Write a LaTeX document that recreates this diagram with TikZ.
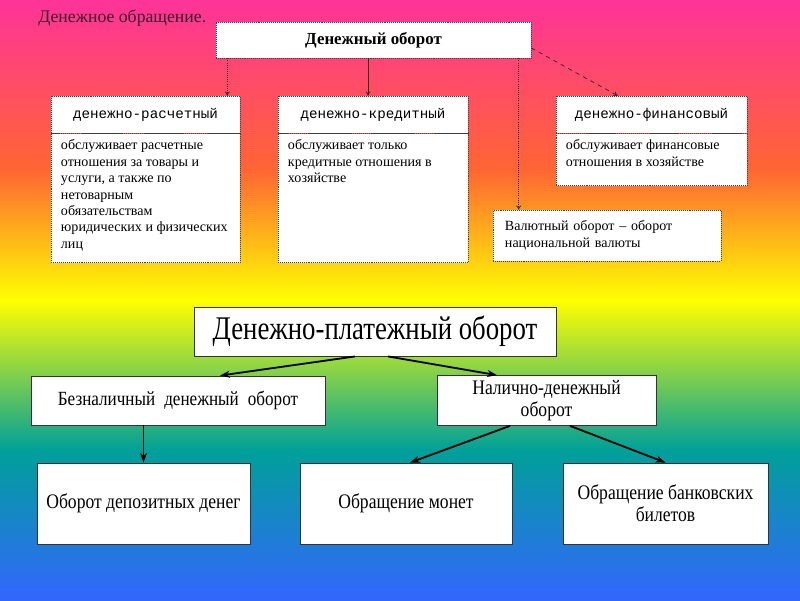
\documentclass[tikz,border=0pt]{standalone}
\usepackage{fontspec}
\setmainfont{Liberation Serif}
\setmonofont{Liberation Mono}
\newfontfamily\narrowserif[FakeStretch=0.85]{Liberation Serif}
\newfontfamily\tallserif[FakeStretch=0.81]{Liberation Serif}
\usetikzlibrary{positioning,arrows.meta,calc,shadows}

\definecolor{bgpink}{HTML}{FF3399}
\definecolor{bgorange}{HTML}{FF6633}
\definecolor{bgyellow}{HTML}{FFFF00}
\definecolor{bgteal}{HTML}{00A099}
\definecolor{bgblue}{HTML}{3366FF}
\definecolor{titlecol}{HTML}{3A1A2A}

\newcommand{\bodytxt}[3]{\parbox[c][#2][t]{#1}{\raggedright #3}}

\tikzset{
  dotbox/.style={draw=black!75, densely dotted, fill=white, inner sep=0pt},
  headbox/.style={dotbox, font=\ttfamily\fontsize{10.1}{12}\selectfont, minimum height=0.925cm},
  bodybox/.style={dotbox, inner xsep=0.25cm, inner ysep=0.15cm, font=\fontsize{10}{11.7}\selectfont},
  flowbox/.style={draw=black!80, fill=white, line width=0.6pt, align=center,
    drop shadow={shadow xshift=1pt, shadow yshift=-1pt, opacity=0.45},
    font=\narrowserif\fontsize{14.7}{15.6}\selectfont},
  thinarrow/.style={-{To[length=3pt,width=3.5pt]}, line width=0.5pt, black!85},
  thickarrow/.style={-{Stealth[length=7pt,width=5pt]}, line width=1.3pt},
}

\begin{document}
\begin{tikzpicture}[x=0.025cm,y=-0.025cm]
\useasboundingbox (0,0) rectangle (800,600);
% background
\shade[top color=bgpink, bottom color=bgorange] (0,0) rectangle (800,170);
\shade[top color=bgorange, bottom color=bgyellow] (0,170) rectangle (800,300);
\shade[top color=bgyellow, bottom color=bgteal] (0,300) rectangle (800,450);
\shade[top color=bgteal, bottom color=bgblue] (0,450) rectangle (800,600);

\node[anchor=west, inner sep=0pt, text=titlecol, font=\fontsize{12.6}{14}\selectfont] (title) at (38,18) {Денежное обращение.};

% upper scheme
\node[dotbox, minimum width=7.875cm, minimum height=0.9cm, font=\bfseries\fontsize{12}{14}\selectfont] (dob) at (373.5,40) {Денежный оборот};

\node[headbox, minimum width=4.725cm] (r1h) at (145.5,114.5) {денежно-расчетный};
\node[bodybox, below=0pt of r1h] (r1b) {\bodytxt{4.225cm}{2.925cm}{обслуживает расчетные\\ отношения за товары и\\ услуги, а также по\\ нетоварным\\ обязательствам\\ юридических и физических\\ лиц}};

\node[headbox, minimum width=4.75cm] (r2h) at (373,114.5) {денежно-кредитный};
\node[bodybox, below=0pt of r2h] (r2b) {\bodytxt{4.25cm}{2.925cm}{обслуживает только\\ кредитные отношения в\\ хозяйстве}};

\node[headbox, minimum width=4.775cm] (r3h) at (651.5,114.5) {денежно-финансовый};
\node[bodybox, below=0pt of r3h] (r3b) {\bodytxt{4.275cm}{1.0cm}{обслуживает финансовые\\ отношения в хозяйстве}};

\node[dotbox, minimum width=5.7cm, minimum height=1.275cm, inner xsep=0.3cm, text width=5.1cm, align=left, font=\fontsize{10}{11.7}\selectfont] (val) at (607,235.5) {Валютный оборот – оборот\\ национальной валюты};

\coordinate (t1) at ($(r1h.north east)+(-13,0)$);
\coordinate (t2) at ($(r2h.north)+(-5,0)$);
\coordinate (t3) at ($(val.north west)+(26,0)$);
\draw[thinarrow, densely dotted] (dob.south -| t1) -- (t1);
\draw[thinarrow] (dob.south -| t2) -- (t2);
\draw[thinarrow, densely dotted] (dob.south -| t3) -- (t3);
\draw[thinarrow, dashed] ($(dob.east)+(0,8)$) -- ($(r3h.north west)+(62,0)$);

% lower scheme
\node[flowbox, minimum width=9.05cm, minimum height=1.225cm, font=\tallserif\fontsize{23.5}{26}\selectfont] (dpo) at (375,331.5) {Денежно-платежный оборот};
\node[flowbox, minimum width=7.35cm, minimum height=1.225cm, font=\narrowserif\fontsize{14.3}{15.6}\selectfont] (bez) at (178,400.5) {Безналичный\hspace{0.12cm} денежный\hspace{0.12cm} оборот};
\node[flowbox, minimum width=5.475cm, minimum height=1.225cm] (nal) at (546.5,400.5) {Налично-денежный\\ оборот};
\node[flowbox, minimum width=5.325cm, minimum height=2.025cm] (dep) at (143.5,503.5) {Оборот депозитных денег};
\node[flowbox, minimum width=5.3cm, minimum height=2.025cm] (mon) at (406,503.5) {Обращение монет};
\node[flowbox, minimum width=5.125cm, minimum height=2.025cm] (bil) at (665.5,503.5) {Обращение банковских\\ билетов};

\draw[thickarrow] ($(dpo.south)+(-20,0)$) -- ($(bez.north)+(42,0)$);
\draw[thickarrow] ($(dpo.south)+(13,0)$) -- ($(nal.north)+(-49.5,0)$);
\draw[thickarrow] (dep.north |- bez.south) -- (dep.north);
\draw[thickarrow] ($(nal.south)+(-36.5,0)$) -- ($(mon.north)+(4,0)$);
\draw[thickarrow] ($(nal.south)+(23.5,0)$) -- (bil.north);
\end{tikzpicture}
\end{document}
